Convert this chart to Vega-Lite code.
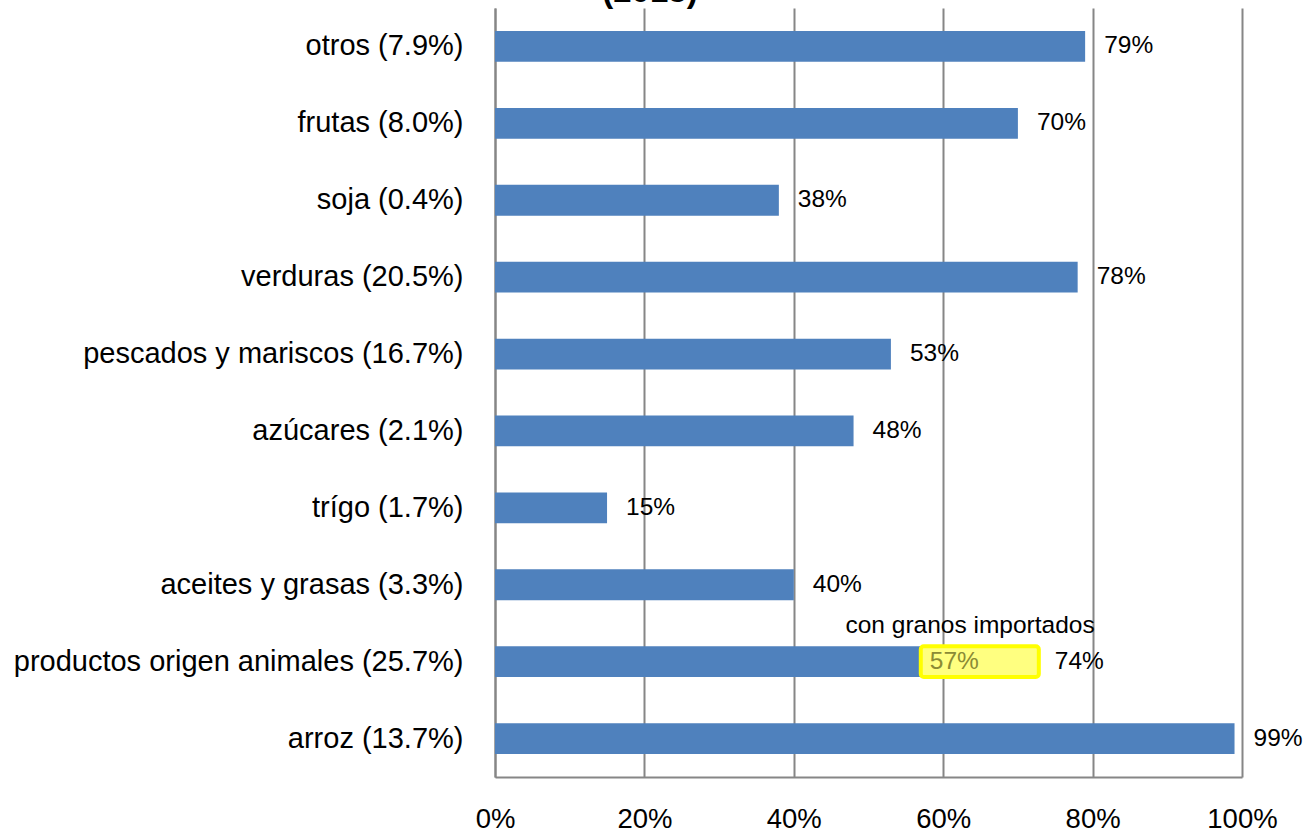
{
  "$schema": "https://vega.github.io/schema/vega-lite/v6.json",
  "autosize": "none",
  "width": 747,
  "height": 769,
  "padding": {"left": 495, "top": 8, "right": 72, "bottom": 55},
  "background": "white",
  "config": {
    "font": "Liberation Sans",
    "view": {"stroke": null}
  },
  "title": {
    "text": "(2013)",
    "frame": "bounds",
    "anchor": "middle",
    "font": "Liberation Sans",
    "fontSize": 33,
    "fontWeight": "bold",
    "color": "black",
    "offset": 0,
    "dx": -8,
    "dy": 1
  },
  "data": {
    "values": [
      {"cat": "otros (7.9%)", "bar": 79, "label": "79%", "labelAt": 79},
      {"cat": "frutas (8.0%)", "bar": 70, "label": "70%", "labelAt": 70},
      {"cat": "soja (0.4%)", "bar": 38, "label": "38%", "labelAt": 38},
      {"cat": "verduras (20.5%)", "bar": 78, "label": "78%", "labelAt": 78},
      {"cat": "pescados y mariscos (16.7%)", "bar": 53, "label": "53%", "labelAt": 53},
      {"cat": "azúcares (2.1%)", "bar": 48, "label": "48%", "labelAt": 48},
      {"cat": "trígo (1.7%)", "bar": 15, "label": "15%", "labelAt": 15},
      {"cat": "aceites y grasas (3.3%)", "bar": 40, "label": "40%", "labelAt": 40},
      {"cat": "productos origen animales (25.7%)", "bar": 57, "label": "74%", "labelAt": 72.4, "boxFrom": 57, "boxTo": 72.8, "boxLabel": "57%", "note": "con granos importados", "noteAt": 63.6},
      {"cat": "arroz (13.7%)", "bar": 99, "label": "99%", "labelAt": 99}
    ]
  },
  "encoding": {
    "y": {
      "field": "cat",
      "type": "nominal",
      "sort": null,
      "scale": {"paddingInner": 0.6, "paddingOuter": 0.3},
      "axis": {
        "title": null,
        "ticks": false,
        "tickSize": 0,
        "labelPadding": 32,
        "labelFontSize": 29,
        "labelColor": "black",
        "labelFont": "Liberation Sans",
        "labelLimit": 600,
        "domainColor": "#868686",
        "domainWidth": 2,
        "grid": false
      }
    }
  },
  "layer": [
    {
      "mark": {"type": "bar", "color": "#4F81BD"},
      "encoding": {
        "x": {
          "field": "bar",
          "type": "quantitative",
          "scale": {"domain": [0, 100], "nice": false},
          "axis": {
            "title": null,
            "values": [0, 20, 40, 60, 80, 100],
            "labelExpr": "datum.value + '%'",
            "ticks": false,
            "tickSize": 0,
            "labelPadding": 28,
            "labelFontSize": 27.5,
            "labelColor": "black",
            "labelFont": "Liberation Sans",
            "labelFlush": false,
            "domainColor": "#868686",
            "domainWidth": 2,
            "grid": true,
            "gridColor": "#868686",
            "gridWidth": 2
          }
        }
      }
    },
    {
      "mark": {"type": "text", "align": "left", "baseline": "middle", "dx": 19, "fontSize": 24.5, "color": "black"},
      "encoding": {
        "x": {"field": "labelAt", "type": "quantitative"},
        "text": {"field": "label"}
      }
    },
    {
      "transform": [{"filter": "isValid(datum.boxFrom)"}],
      "mark": {"type": "bar", "fill": "#FFFF80", "stroke": "#FFFF00", "strokeWidth": 4, "cornerRadius": 3},
      "encoding": {
        "x": {"field": "boxFrom", "type": "quantitative"},
        "x2": {"field": "boxTo"}
      }
    },
    {
      "transform": [{"filter": "isValid(datum.boxFrom)"}],
      "mark": {"type": "text", "align": "left", "baseline": "middle", "dx": 9, "fontSize": 24.5, "color": "#8B8B35"},
      "encoding": {
        "x": {"field": "boxFrom", "type": "quantitative"},
        "text": {"field": "boxLabel"}
      }
    },
    {
      "transform": [{"filter": "isValid(datum.note)"}],
      "mark": {"type": "text", "align": "center", "baseline": "middle", "dy": -36, "fontSize": 24.5, "color": "black"},
      "encoding": {
        "x": {"field": "noteAt", "type": "quantitative"},
        "text": {"field": "note"}
      }
    }
  ]
}
